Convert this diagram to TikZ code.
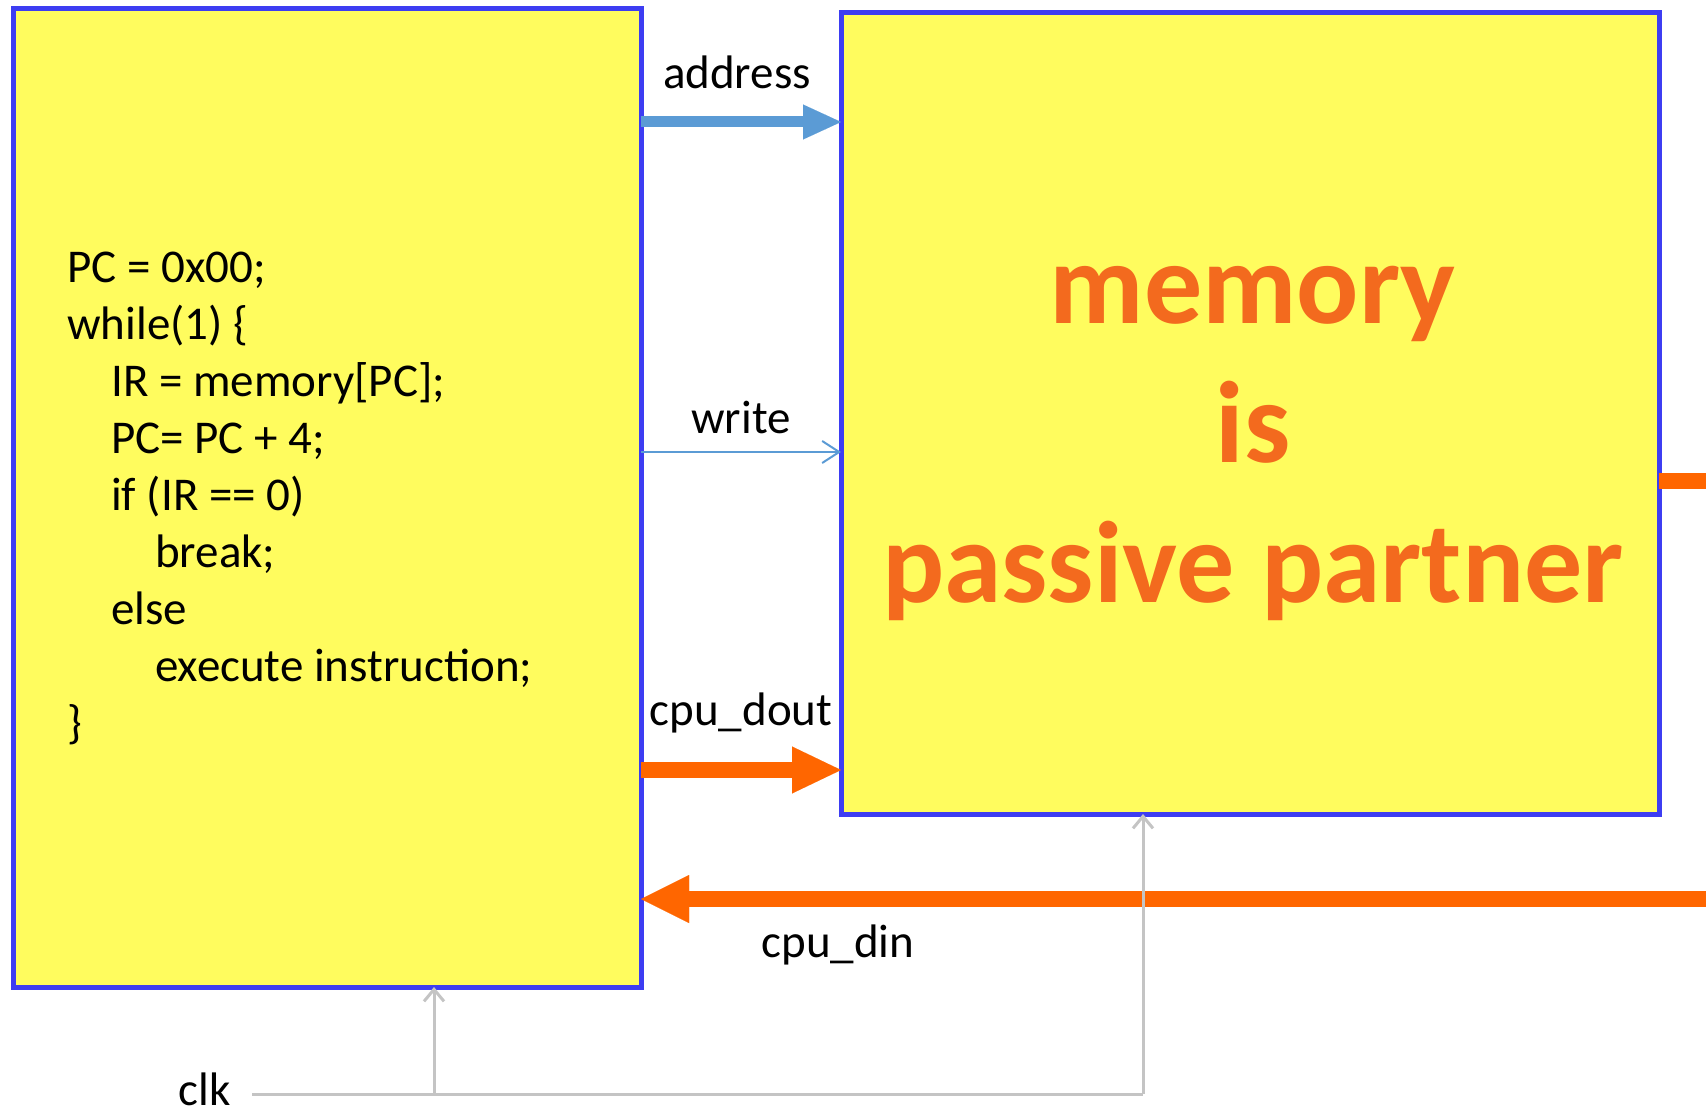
\documentclass[tikz,border=0pt]{standalone}
\usepackage{fontspec}
\setmainfont{Carlito}
\usetikzlibrary{arrows.meta}
\definecolor{boxyellow}{HTML}{FFFC5E}
\definecolor{boxblue}{HTML}{3D3DF2}
\definecolor{sigblue}{HTML}{5B9BD5}
\definecolor{sigorange}{HTML}{FF6600}
\definecolor{clkgray}{HTML}{C4C4C4}
\definecolor{txtorange}{HTML}{F36A1E}
\begin{document}
\begin{tikzpicture}[x=1pt,y=-1pt,
  block/.style={draw=boxblue, fill=boxyellow, line width=5pt, inner sep=0pt, outer sep=0pt},
  codeline/.style={font=\fontsize{47}{56}\selectfont, inner sep=0pt, anchor=base west},
  siglabel/.style={font=\fontsize{47}{56}\selectfont, inner sep=0pt, anchor=base},
  bigtxt/.style={font=\fontsize{116}{130}\selectfont\bfseries, inner sep=0pt, anchor=base, text=txtorange},
  busblue/.style={draw=sigblue, line width=11pt, -{Triangle[length=38pt,width=35pt,line width=0.01pt]}},
  wireblue/.style={draw=sigblue, line width=2pt, -{Straight Barb[length=17pt,width=22pt,line width=2pt]}},
  busorange/.style={draw=sigorange, line width=16pt, -{Triangle[length=49pt,width=47pt,line width=0.01pt]}},
  busplain/.style={draw=sigorange, line width=16pt},
  clkline/.style={draw=clkgray, line width=3pt},
  clkarrow/.style={draw=clkgray, line width=3pt, -{Straight Barb[length=12pt,width=20pt,line width=3pt]}}
]
\useasboundingbox (0,0) rectangle (1706,1113);

% blocks
\node[block, minimum width=628pt, minimum height=978pt] (cpu) at (327,498) {};
\node[block, minimum width=818pt, minimum height=801pt] (mem) at (1250,413.5) {};

% code inside cpu
\node[codeline] (c1) at (67,282) {PC = 0x00;};
\node[codeline] (c2) at (67,339) {while(1) \{};
\node[codeline] (c3) at (111,396) {IR = memory[PC];};
\node[codeline] (c4) at (111,453) {PC= PC + 4;};
\node[codeline] (c5) at (111,510) {if (IR == 0)};
\node[codeline] (c6) at (155,567) {break;};
\node[codeline] (c7) at (111,624) {else};
\node[codeline] (c8) at (155,681) {execute instruction;};
\node[codeline] (c9) at (67,738) {\}};

% memory text
\node[bigtxt] (m1) at (1253,323) {memory};
\node[bigtxt] (m2) at (1253,462) {is};
\node[bigtxt] (m3) at (1253,602) {passive partner};

% level coordinates
\coordinate (yaddr) at (0,122);
\coordinate (ywr) at (0,452);
\coordinate (ydout) at (0,770);
\coordinate (ydin) at (0,899);
\coordinate (dinR) at (1706,899);
\coordinate (outR) at (1706,481);
\coordinate (yout) at (0,481);
\coordinate (clkL) at (252,1094);
\coordinate (clkT) at (434,1094);
\coordinate (clkR) at (1143,1094);

% signals
\draw[busblue] (cpu.east |- yaddr) -- (mem.west |- yaddr);
\draw[wireblue] (cpu.east |- ywr) -- (mem.west |- ywr);
\draw[busorange] (cpu.east |- ydout) -- (mem.west |- ydout);
\draw[busplain] (mem.east |- yout) -- (outR);
\draw[draw=sigorange, line width=16pt, -{Triangle[length=48pt,width=48pt,line width=0.01pt]}] (dinR) -- (cpu.east |- ydin);

% clock
\draw[clkline] (clkL) -- (clkR);
\draw[clkarrow] (clkR) -- (clkR |- mem.south);
\draw[clkarrow] (clkT) -- (clkT |- cpu.south);

% labels
\node[siglabel] (laddr) at (737,89) {address};
\node[siglabel] (lwr) at (741,433) {write};
\node[siglabel] (ldout) at (741,725) {cpu\_dout};
\node[siglabel] (ldin) at (838,957) {cpu\_din};
\node[siglabel, anchor=base east] (lclk) at (231,1105) {clk};
\end{tikzpicture}
\end{document}
